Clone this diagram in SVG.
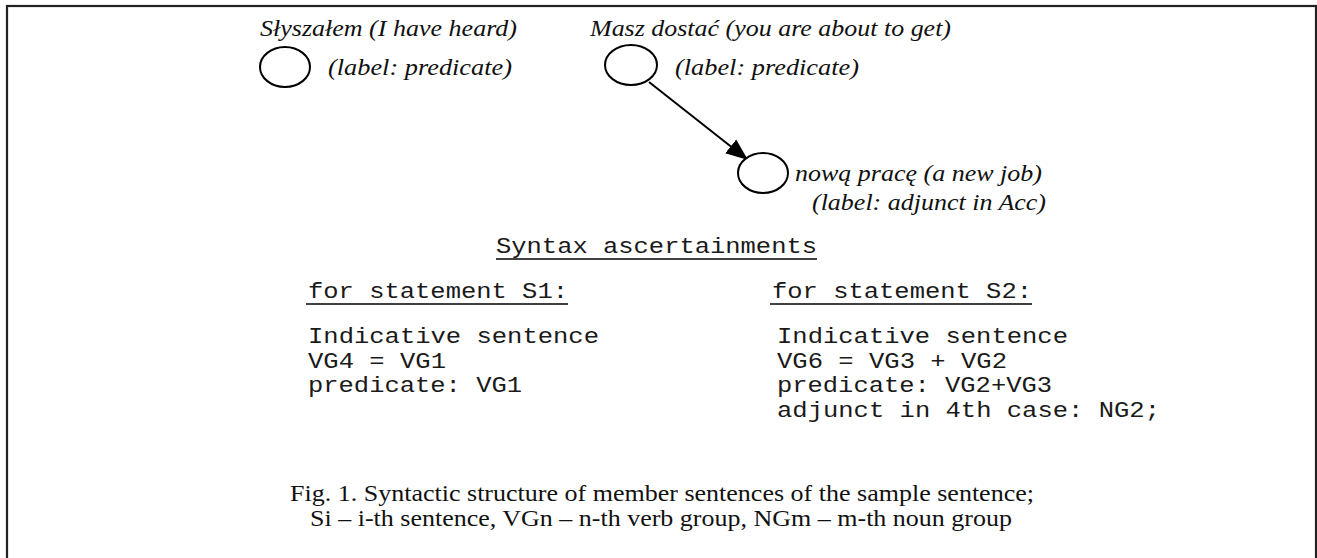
<svg xmlns="http://www.w3.org/2000/svg" width="1317" height="558" viewBox="0 0 1317 558">
  <style>
    .frame { fill: none; stroke: #222; stroke-width: 2.2; }
    .node { fill: #fff; stroke: #000; stroke-width: 2; }
    .edge { stroke: #000; stroke-width: 2; fill: none; }
    .it { font-family: "Liberation Serif", "Times New Roman", serif; font-style: italic; font-size: 23px; fill: #111; }
    .mono { font-family: "Liberation Mono", "Courier New", monospace; font-size: 22px; fill: #1a1a1a; }
    .cap { font-family: "Liberation Serif", "Times New Roman", serif; font-size: 23px; fill: #111; }
    .ul { stroke: #000; stroke-width: 1.4; }
  </style>
  <defs>
    <marker id="arrow" viewBox="0 0 10 10" refX="10" refY="5" markerWidth="22" markerHeight="22" markerUnits="userSpaceOnUse" orient="auto">
      <path d="M0,1 L10,5 L0,9 z" fill="#000"/>
    </marker>
  </defs>

  <rect class="frame" x="7" y="6" width="1309" height="600"/>

  <g id="connectors">
    <line class="edge" x1="649" y1="82" x2="748" y2="160" marker-end="url(#arrow)"/>
  </g>

  <g id="node-s1">
    <ellipse class="node" cx="285" cy="67" rx="25" ry="20"/>
    <text class="it" x="260" y="36" textLength="257" lengthAdjust="spacingAndGlyphs">Słyszałem (I have heard)</text>
    <text class="it" x="328" y="75" textLength="184" lengthAdjust="spacingAndGlyphs">(label: predicate)</text>
  </g>

  <g id="node-s2">
    <ellipse class="node" cx="631" cy="65" rx="26" ry="20"/>
    <text class="it" x="590" y="36" textLength="361" lengthAdjust="spacingAndGlyphs">Masz dostać (you are about to get)</text>
    <text class="it" x="675" y="75" textLength="184" lengthAdjust="spacingAndGlyphs">(label: predicate)</text>
  </g>

  <g id="node-ng2">
    <ellipse class="node" cx="763" cy="173" rx="25" ry="20"/>
    <text class="it" x="795" y="181" textLength="247" lengthAdjust="spacingAndGlyphs">nową pracę (a new job)</text>
    <text class="it" x="812" y="210" textLength="234" lengthAdjust="spacingAndGlyphs">(label: adjunct in Acc)</text>
  </g>

  <g id="ascertainments">
    <text class="mono" x="496" y="253" textLength="321" lengthAdjust="spacingAndGlyphs">Syntax ascertainments</text>
    <line class="ul" x1="496" y1="259" x2="817" y2="259"/>

    <text class="mono" x="308" y="298" textLength="260" lengthAdjust="spacingAndGlyphs">for statement S1:</text>
    <line class="ul" x1="306" y1="304" x2="568" y2="304"/>
    <text class="mono" x="308" y="343" textLength="291" lengthAdjust="spacingAndGlyphs">Indicative sentence</text>
    <text class="mono" x="308" y="367.5" textLength="138" lengthAdjust="spacingAndGlyphs">VG4 = VG1</text>
    <text class="mono" x="308" y="392" textLength="214" lengthAdjust="spacingAndGlyphs">predicate: VG1</text>

    <text class="mono" x="772" y="298" textLength="260" lengthAdjust="spacingAndGlyphs">for statement S2:</text>
    <line class="ul" x1="770" y1="304" x2="1032" y2="304"/>
    <text class="mono" x="777" y="343" textLength="291" lengthAdjust="spacingAndGlyphs">Indicative sentence</text>
    <text class="mono" x="777" y="367.5" textLength="230" lengthAdjust="spacingAndGlyphs">VG6 = VG3 + VG2</text>
    <text class="mono" x="777" y="392" textLength="275" lengthAdjust="spacingAndGlyphs">predicate: VG2+VG3</text>
    <text class="mono" x="777" y="416.5" textLength="383" lengthAdjust="spacingAndGlyphs">adjunct in 4th case: NG2;</text>
  </g>

  <g id="caption">
    <text class="cap" x="290" y="501" textLength="744" lengthAdjust="spacingAndGlyphs">Fig. 1. Syntactic structure of member sentences of the sample sentence;</text>
    <text class="cap" x="310" y="526" textLength="702" lengthAdjust="spacingAndGlyphs">Si – i-th sentence, VGn – n-th verb group, NGm – m-th noun group</text>
  </g>
</svg>
